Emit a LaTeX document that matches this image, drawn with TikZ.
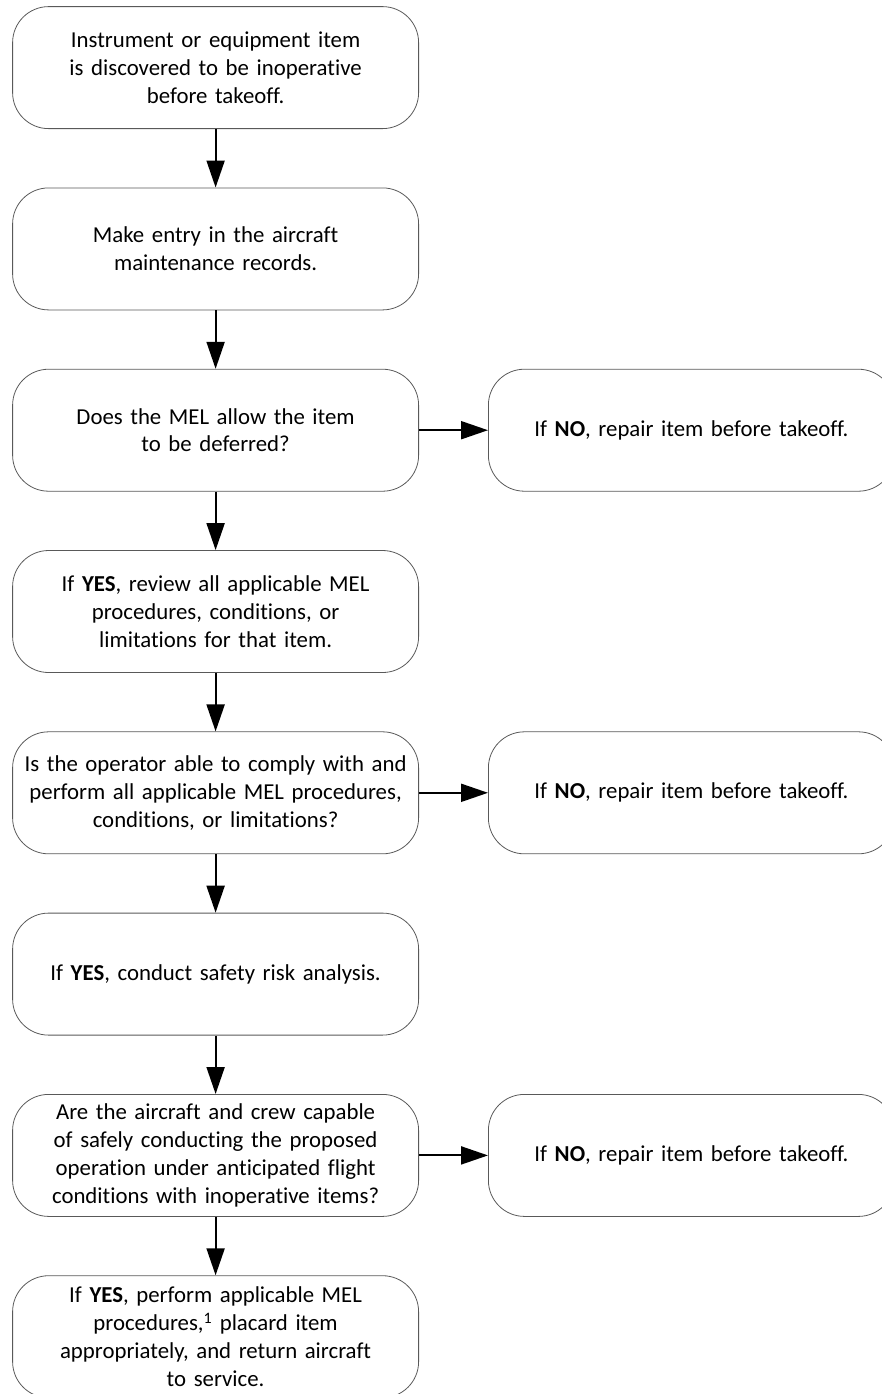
\documentclass[tikz,border=0pt]{standalone}
\usepackage{fontspec}
\setmainfont{Carlito}[Ligatures = NoCommon]
\usetikzlibrary{matrix, arrows.meta}

\tikzset{
  stepbox/.style = {draw = gray!70!black, line width = .8pt, rounded corners = 36pt,
    minimum width = 406pt, minimum height = 122pt, text width = 396pt,
    align = center, inner sep = 0pt, font = \fontsize{22.8}{27.8}\selectfont},
  flow/.style = {line width = 2pt, -{Triangle[width = 18pt, length = 27pt]}}
}

\begin{document}
\begin{tikzpicture}[x = 1pt, y = 1pt]
\useasboundingbox (0,0) rectangle (881,-1394);
\matrix (m) [anchor = north west, inner sep = 0pt, column sep = 69pt, row sep = 58.5pt] at (12,-6) {
\node[stepbox](s1){Instrument or equipment item\\ is discovered to be inoperative\\ before takeoff.}; & \\
\node[stepbox](s2){Make entry in the aircraft\\ maintenance records.}; & \\
\node[stepbox](s3){Does the MEL allow the item\\ to be deferred?}; &
  \node[stepbox](n3){If \textbf{NO}, repair item before takeoff.}; \\
\node[stepbox](s4){If \textbf{YES}, review all applicable MEL\\ procedures, conditions, or\\ limitations for that item.}; & \\
\node[stepbox](s5){Is the operator able to comply with and\\ perform all applicable MEL procedures,\\ conditions, or limitations?}; &
  \node[stepbox](n5){If \textbf{NO}, repair item before takeoff.}; \\
\node[stepbox](s6){If \textbf{YES}, conduct safety risk analysis.}; & \\
\node[stepbox](s7){Are the aircraft and crew capable\\ of safely conducting the proposed\\ operation under anticipated flight\\ conditions with inoperative items?}; &
  \node[stepbox](n7){If \textbf{NO}, repair item before takeoff.}; \\
\node[stepbox](s8){If \textbf{YES}, perform applicable MEL\\ procedures,\textsuperscript{1} placard item\\ appropriately, and return aircraft\\ to service.}; & \\
};
\foreach \a/\b in {s1/s2, s2/s3, s3/s4, s4/s5, s5/s6, s6/s7, s7/s8}
  \draw[flow] (\a) -- (\b);
\foreach \i in {3, 5, 7}
  \draw[flow] (s\i) -- (n\i);
\end{tikzpicture}
\end{document}
